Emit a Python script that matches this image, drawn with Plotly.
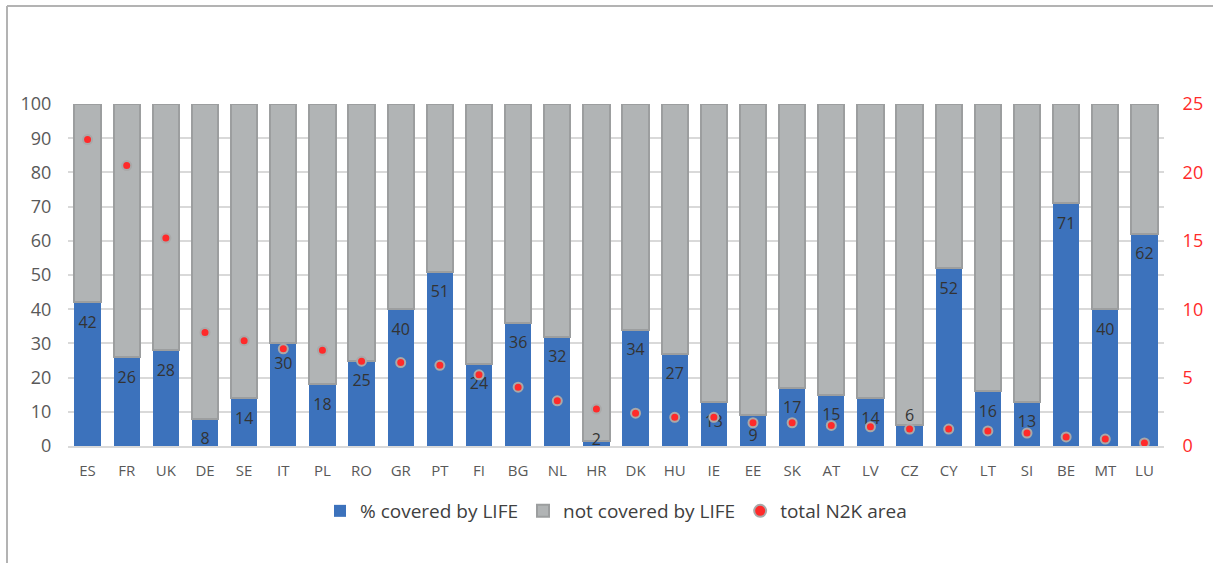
import plotly.graph_objects as go

countries = ["ES","FR","UK","DE","SE","IT","PL","RO","GR","PT","FI","BG","NL","HR",
             "DK","HU","IE","EE","SK","AT","LV","CZ","CY","LT","SI","BE","MT","LU"]
covered = [42,26,28,8,14,30,18,25,40,51,24,36,32,1.5,34,27,13,9,17,15,14,6,52,16,13,71,40,62]
not_covered = [100 - v for v in covered]
n2k_area = [22.4,20.5,15.2,8.3,7.7,7.1,7.0,6.2,6.1,5.9,5.2,4.3,3.3,2.7,
            2.4,2.1,2.1,1.7,1.7,1.5,1.4,1.24,1.24,1.1,0.95,0.66,0.51,0.22]

BLUE = "#3C72BC"
GREY = "#B1B4B5"
GREY_LINE = "#9C9E9F"
RED = "#FF2A2A"
FONT = "Open Sans, Liberation Sans, sans-serif"

# label placement (as in the original: inside the top of the bar, except tiny bars)
label_pos = []
label_pad = []
for c in countries:
    if c == "HR":
        label_pos.append("middle center"); label_pad.append(0)
    elif c == "CZ":
        label_pos.append("top center"); label_pad.append(0)
    else:
        label_pos.append("bottom center"); label_pad.append(20)

fig = go.Figure()
fig.add_trace(go.Bar(
    x=countries, y=covered, name="% covered by LIFE",
    marker=dict(color=BLUE, line=dict(width=0)),
))
fig.add_trace(go.Bar(
    x=countries, y=not_covered, name="not covered by LIFE",
    marker=dict(color=GREY, line=dict(color=GREY_LINE, width=2)),
))
fig.add_trace(go.Scatter(
    x=countries, y=covered, mode="text+markers", showlegend=False, hoverinfo="skip",
    marker=dict(size=label_pad, color="rgba(0,0,0,0)",
                line=dict(width=0, color="rgba(0,0,0,0)")),
    text=[f"{v:.0f}" for v in covered], textposition=label_pos,
    textfont=dict(color="#333333", size=16, family=FONT),
))
fig.add_trace(go.Scatter(
    x=countries, y=n2k_area, name="total N2K area", mode="markers",
    yaxis="y2",
    marker=dict(color=RED, size=9, line=dict(color="#A9A9A9", width=2)),
))

fig.update_layout(
    width=1213, height=563,
    barmode="stack", bargap=0.33,
    paper_bgcolor="white", plot_bgcolor="white",
    margin=dict(l=68, r=49, t=104, b=117, autoexpand=False),
    font=dict(family=FONT, color="#595959"),
    showlegend=True,
    legend=dict(orientation="h", x=0.5, xanchor="center", y=-65/342, yanchor="middle",
                font=dict(size=19, color="#404040"), traceorder="normal",
                itemsizing="constant"),
    xaxis=dict(range=[-0.5, len(countries) - 0.5], showgrid=False,
               tickfont=dict(size=15, color="#595959"),
               showline=True, linecolor="#D9D9D9", linewidth=1.5,
               ticks="outside", ticklen=10, tickcolor="rgba(0,0,0,0)", automargin=False),
    yaxis=dict(range=[0, 100], dtick=10, showgrid=True, gridcolor="#D9D9D9",
               gridwidth=1.5, zeroline=False, tickfont=dict(size=18, color="#595959"),
               ticks="outside", ticklen=12, tickcolor="rgba(0,0,0,0)", automargin=False),
    yaxis2=dict(range=[0, 25], dtick=5, overlaying="y", side="right",
                showgrid=False, zeroline=False,
                tickfont=dict(size=18, color="#FF2A2A"),
                ticks="outside", ticklen=14, tickcolor="rgba(0,0,0,0)", automargin=False),
    shapes=[
        dict(type="line", xref="paper", yref="paper",
             x0=-61/1096, x1=1206/1096, y0=1+98/342, y1=1+98/342,
             line=dict(color="#B3B3B3", width=2)),
        dict(type="line", xref="paper", yref="paper",
             x0=-61/1096, x1=-61/1096, y0=1+98/342, y1=-117/342,
             line=dict(color="#B3B3B3", width=2)),
    ],
)

fig.write_html("out.html", config={"displayModeBar": False},
               post_script="document.body.style.margin='0';")
